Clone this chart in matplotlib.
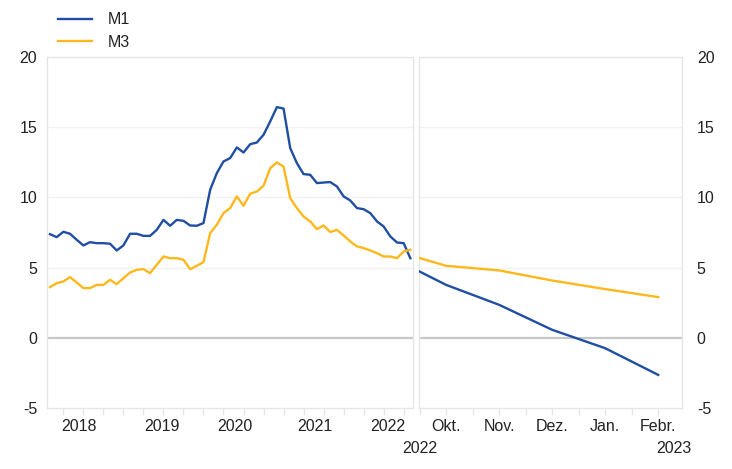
import numpy as np
import matplotlib
matplotlib.use('Agg')
import matplotlib.pyplot as plt
from matplotlib.ticker import FixedLocator

plt.rcParams['font.family'] = ['Liberation Sans', 'DejaVu Sans']
plt.rcParams['axes.unicode_minus'] = False

# Verlauf: Monatswerte Feb. 2018 bis Aug. 2022 (Monatsindex, Jan. 2018 = 0)
months = np.arange(1, 56)
m1_hist = [7.38, 7.17, 7.55, 7.41, 6.98, 6.58, 6.81, 6.74, 6.74, 6.70,
           6.22, 6.58, 7.41, 7.41, 7.26, 7.26, 7.69, 8.40, 7.98, 8.40,
           8.33, 8.00, 7.98, 8.17, 10.54, 11.73, 12.56, 12.80, 13.56, 13.20,
           13.79, 13.91, 14.46, 15.41, 16.43, 16.33, 13.51, 12.44, 11.66, 11.61,
           11.02, 11.06, 11.09, 10.78, 10.07, 9.78, 9.24, 9.16, 8.88, 8.29,
           7.93, 7.22, 6.79, 6.74, 5.67]
m3_hist = [3.61, 3.89, 4.01, 4.32, 3.94, 3.54, 3.54, 3.77, 3.77, 4.13,
           3.82, 4.25, 4.65, 4.84, 4.89, 4.61, 5.20, 5.79, 5.67, 5.67,
           5.56, 4.89, 5.13, 5.39, 7.45, 8.05, 8.88, 9.24, 10.07, 9.40,
           10.26, 10.42, 10.83, 12.08, 12.49, 12.20, 9.95, 9.24, 8.64, 8.29,
           7.74, 8.00, 7.53, 7.69, 7.29, 6.86, 6.51, 6.39, 6.22, 6.03,
           5.79, 5.79, 5.67, 6.15, 6.27]
year_labels = ['2018', '2019', '2020', '2021', '2022']
year_pos = [5.3, 17.7, 28.7, 40.7, 51.7]

# Projektion (Okt. = 0)
proj_x = [-0.5, 0, 1, 2, 3, 4]
m1_proj = [4.72, 3.77, 2.35, 0.57, -0.74, -2.64]
m3_proj = [5.68, 5.13, 4.80, 4.08, 3.47, 2.90]
month_labels = ['Okt.', 'Nov.', 'Dez.', 'Jan.', 'Febr.']

blue = '#1f4ea3'
yellow = '#ffb81c'
spine_c = '#e6e6e6'
grid_c = '#f2f2f2'
txt_c = '#222222'
fs = 11.5

fig = plt.figure(figsize=(7.32, 4.69), dpi=100)
ax1 = fig.add_axes([47 / 732, 61 / 469, 366 / 732, 351 / 469])
ax2 = fig.add_axes([418.5 / 732, 61 / 469, 263 / 732, 351 / 469])

for ax in (ax1, ax2):
    ax.set_ylim(-5, 20)
    ax.set_yticks([-5, 0, 5, 10, 15, 20])
    for v in (5, 10, 15):
        ax.axhline(v, color=grid_c, lw=1, zorder=0)
    ax.axhline(0, color='#c8c8c8', lw=1.6, zorder=1)
    for s in ax.spines.values():
        s.set_color(spine_c)
        s.set_linewidth(1)
    ax.xaxis.remove_overlapping_locs = False
    ax.tick_params(axis='y', length=0, labelsize=fs, colors=txt_c)
    ax.tick_params(axis='x', which='major', length=5, color=spine_c, width=1,
                   labelbottom=False)
    ax.tick_params(axis='x', which='minor', length=0, labelsize=fs,
                   colors=txt_c, pad=8)

ax1.plot(months, m1_hist, color=blue, lw=1.7, label='M1', zorder=3)
ax1.plot(months, m3_hist, color=yellow, lw=1.7, label='M3', zorder=3)
ax1.set_xlim(0.55, 55.4)
ax1.set_xticks(np.arange(3, 55, 3))
ax1.xaxis.set_minor_locator(FixedLocator(year_pos))
ax1.set_xticklabels(year_labels, minor=True)
ax1.tick_params(axis='y', pad=7)

ax2.plot(proj_x, m1_proj, color=blue, lw=1.7, zorder=3)
ax2.plot(proj_x, m3_proj, color=yellow, lw=1.7, zorder=3)
ax2.set_xlim(-0.52, 4.44)
ax2.set_xticks(np.arange(-0.5, 4.01, 0.5))
ax2.xaxis.set_minor_locator(FixedLocator(range(len(month_labels))))
ax2.set_xticklabels(month_labels, minor=True)
ax2.yaxis.tick_right()
ax2.tick_params(axis='y', pad=11)
ax2.text(-0.5, -0.095, '2022', transform=ax2.get_xaxis_transform(),
         ha='center', va='top', fontsize=fs, color=txt_c)
ax2.text(4.3, -0.095, '2023', transform=ax2.get_xaxis_transform(),
         ha='center', va='top', fontsize=fs, color=txt_c)

fig.legend(loc='upper left', bbox_to_anchor=(58 / 732, 1 - 12.5 / 469),
           frameon=False, fontsize=fs, handlelength=2.1, handletextpad=1.0,
           labelspacing=0.45, borderpad=0, borderaxespad=0,
           labelcolor=txt_c)

fig.savefig('out.png', dpi=100)
